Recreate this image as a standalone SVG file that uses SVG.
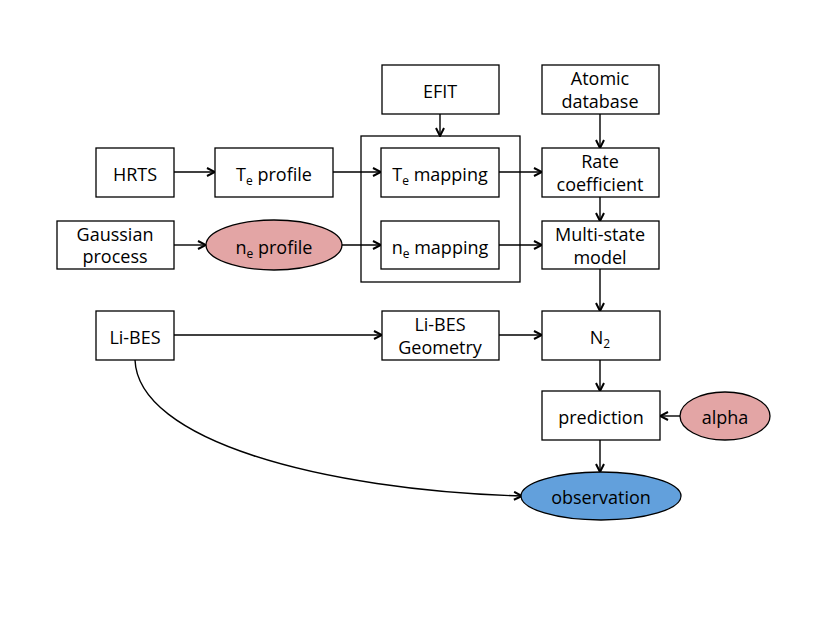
<svg xmlns="http://www.w3.org/2000/svg" width="830" height="623" viewBox="0 0 830 623">
<style>
.box{fill:#fff;stroke:#000;stroke-width:1.3}
.frame{fill:none;stroke:#000;stroke-width:1.3}
.pink{fill:#e3a5a5;stroke:#000;stroke-width:1.3}
.blue{fill:#62a0dc;stroke:#000;stroke-width:1.3}
.c{fill:none;stroke:#000;stroke-width:1.4}
text{font-family:"Open Sans","Noto Sans",sans-serif;font-size:18px;fill:#000;text-anchor:middle}
.sub{font-size:12px}
</style>
<defs>
<marker id="a" viewBox="0 0 10 10" refX="9" refY="5" markerWidth="10" markerHeight="10" markerUnits="userSpaceOnUse" orient="auto">
<path d="M1,1 L9,5 L1,9" fill="none" stroke="#000" stroke-width="2"/>
</marker>
</defs>
<rect width="830" height="623" fill="#fff"/>
<g id="mapping-group"><rect class="frame" x="361" y="136" width="159" height="146"/></g>
<g id="connectors">
<line class="c" x1="174" y1="172" x2="215" y2="172" marker-end="url(#a)"/>
<line class="c" x1="333" y1="172" x2="381" y2="172" marker-end="url(#a)"/>
<line class="c" x1="174" y1="245" x2="206" y2="245" marker-end="url(#a)"/>
<line class="c" x1="342" y1="245" x2="381" y2="245" marker-end="url(#a)"/>
<line class="c" x1="440" y1="114" x2="440" y2="136" marker-end="url(#a)"/>
<line class="c" x1="600" y1="114" x2="600" y2="148" marker-end="url(#a)"/>
<line class="c" x1="499" y1="172" x2="542" y2="172" marker-end="url(#a)"/>
<line class="c" x1="600" y1="197" x2="600" y2="221" marker-end="url(#a)"/>
<line class="c" x1="499" y1="245" x2="542" y2="245" marker-end="url(#a)"/>
<line class="c" x1="600" y1="269" x2="600" y2="311" marker-end="url(#a)"/>
<line class="c" x1="174" y1="335" x2="382" y2="335" marker-end="url(#a)"/>
<line class="c" x1="499" y1="335" x2="542" y2="335" marker-end="url(#a)"/>
<line class="c" x1="600" y1="360" x2="600" y2="391" marker-end="url(#a)"/>
<line class="c" x1="680" y1="416" x2="660" y2="416" marker-end="url(#a)"/>
<line class="c" x1="600" y1="440" x2="600" y2="472" marker-end="url(#a)"/>
<path class="c" d="M135,360 C138,440 320,490 522,496" marker-end="url(#a)"/>
</g>
<g id="hrts"><rect class="box" x="96" y="148" width="78" height="49"/><text x="135" y="181">HRTS</text></g>
<g id="te-profile"><rect class="box" x="215" y="148" width="118" height="49"/><text x="274" y="181">T<tspan class="sub" dy="4">e</tspan><tspan dy="-4"> profile</tspan></text></g>
<g id="gaussian"><rect class="box" x="57" y="221" width="117" height="48"/><text x="115" y="241">Gaussian</text><text x="115" y="263">process</text></g>
<g id="ne-profile"><ellipse class="pink" cx="274" cy="245" rx="68" ry="25"/><text x="274" y="254">n<tspan class="sub" dy="4">e</tspan><tspan dy="-4"> profile</tspan></text></g>
<g id="efit"><rect class="box" x="382" y="65" width="117" height="49"/><text x="440" y="98">EFIT</text></g>
<g id="atomic"><rect class="box" x="542" y="65" width="117" height="49"/><text x="600" y="85">Atomic</text><text x="600" y="108">database</text></g>
<g id="te-mapping"><rect class="box" x="381" y="148" width="118" height="49"/><text x="440" y="181">T<tspan class="sub" dy="4">e</tspan><tspan dy="-4"> mapping</tspan></text></g>
<g id="rate"><rect class="box" x="542" y="148" width="117" height="49"/><text x="600" y="168">Rate</text><text x="600" y="191">coefficient</text></g>
<g id="ne-mapping"><rect class="box" x="381" y="221" width="118" height="48"/><text x="440" y="254">n<tspan class="sub" dy="4">e</tspan><tspan dy="-4"> mapping</tspan></text></g>
<g id="multistate"><rect class="box" x="542" y="221" width="117" height="48"/><text x="600" y="241">Multi-state</text><text x="600" y="264">model</text></g>
<g id="libes"><rect class="box" x="96" y="311" width="78" height="49"/><text x="135" y="344">Li-BES</text></g>
<g id="libes-geom"><rect class="box" x="382" y="311" width="117" height="49"/><text x="440" y="331">Li-BES</text><text x="440" y="354">Geometry</text></g>
<g id="n2"><rect class="box" x="542" y="311" width="118" height="49"/><text x="600" y="344">N<tspan class="sub" dy="4">2</tspan></text></g>
<g id="prediction"><rect class="box" x="542" y="391" width="118" height="49"/><text x="601" y="424">prediction</text></g>
<g id="alpha"><ellipse class="pink" cx="725" cy="416" rx="45" ry="24"/><text x="725" y="424">alpha</text></g>
<g id="observation"><ellipse class="blue" cx="601" cy="496" rx="80" ry="24"/><text x="601" y="504">observation</text></g>
</svg>
